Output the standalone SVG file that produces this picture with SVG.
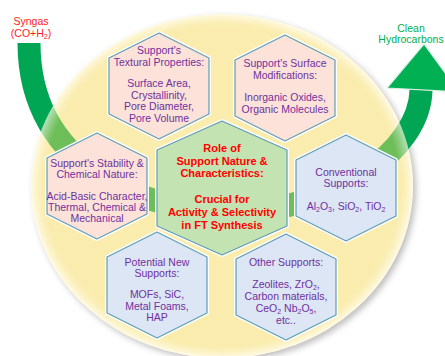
<svg xmlns="http://www.w3.org/2000/svg" xmlns:xlink="http://www.w3.org/1999/xlink" width="445" height="356" viewBox="0 0 445 356">
<defs>
<style>
.t{font-family:"Liberation Sans",Arial,sans-serif;font-size:10.5px;fill:#7030a0;text-anchor:middle}
.c{font-family:"Liberation Sans",Arial,sans-serif;font-size:11px;font-weight:bold;fill:#ff0000;text-anchor:middle}
.lab{font-family:"Liberation Sans",Arial,sans-serif;font-size:10.5px;text-anchor:middle}
.glow{fill:none;stroke:#ffffff;stroke-width:4;stroke-linejoin:round}
.edge{stroke:#5f9db2;stroke-width:1.2;stroke-linejoin:round}
.pink{fill:#fce2d8}
.blue{fill:#dce6f4}
.green{fill:#c4e3b2}
.sub{font-size:7px}
</style>
<polygon id="hexS" points="0,-53 50,-28 50,28 0,53 -50,28 -50,-28"/>
<polygon id="hexL" points="0,-67 65,-38 65,38 0,67 -65,38 -65,-38"/>
<filter id="blur" x="-10%" y="-10%" width="120%" height="120%"><feGaussianBlur stdDeviation="3"/></filter>
<radialGradient id="rim" cx="0.5" cy="0.5" r="0.5">
<stop offset="0.93" stop-color="#f3dc62" stop-opacity="0.45"/>
<stop offset="1" stop-color="#fffbe6" stop-opacity="0.7"/>
</radialGradient>
</defs>
<ellipse cx="225" cy="189" rx="191" ry="172" fill="#8a8a8a" opacity="0.55" filter="url(#blur)"/>
<ellipse cx="222" cy="186" rx="191" ry="172" fill="#fffaec"/>
<g id="connectors">
<path d="M29 43 C29 170 150 212 230 212 C335 212 420 150 421 90" fill="none" stroke="#00a653" stroke-width="23"/>
<polygon points="387,88 424,44 459,92" fill="#00b053" stroke="#d8f0e4" stroke-width="1.2" stroke-linejoin="round"/>
</g>
<ellipse cx="222" cy="186" rx="191" ry="172" fill="url(#rim)"/>
<g id="labels">
<text class="lab" x="31" y="25" fill="#ff1a1a">Syngas</text>
<text class="lab" x="31" y="37" fill="#ff1a1a">(CO+H<tspan class="sub" dy="2">2</tspan><tspan dy="-2">)</tspan></text>
<text class="lab" x="411" y="32" fill="#00b050">Clean</text>
<text class="lab" x="411" y="43" fill="#00b050">Hydrocarbons</text>
</g>
<g id="textural">
<use href="#hexS" x="159" y="86" class="glow"/>
<use href="#hexS" x="159" y="86" class="pink edge"/>
<text class="t" x="159" y="54">Support's</text>
<text class="t" x="159" y="65.5">Textural Properties:</text>
<text class="t" x="159" y="87">Surface Area,</text>
<text class="t" x="159" y="98.5">Crystallinity,</text>
<text class="t" x="159" y="110">Pore Diameter,</text>
<text class="t" x="159" y="121.5">Pore Volume</text>
</g>
<g id="surface">
<use href="#hexS" x="285" y="88" class="glow"/>
<use href="#hexS" x="285" y="88" class="pink edge"/>
<text class="t" x="285" y="67">Support's Surface</text>
<text class="t" x="285" y="78.5">Modifications:</text>
<text class="t" x="285" y="101">Inorganic Oxides,</text>
<text class="t" x="285" y="112.5">Organic Molecules</text>
</g>
<g id="stability">
<use href="#hexS" x="97" y="186" class="glow"/>
<use href="#hexS" x="97" y="186" class="pink edge"/>
<text class="t" x="97" y="167">Support's Stability &amp;</text>
<text class="t" x="97" y="178">Chemical Nature:</text>
<text class="t" x="97" y="200">Acid-Basic Character,</text>
<text class="t" x="97" y="211">Thermal, Chemical &amp;</text>
<text class="t" x="97" y="222">Mechanical</text>
</g>
<g id="center">
<use href="#hexL" x="222" y="188" class="glow"/>
<use href="#hexL" x="222" y="188" class="green edge"/>
<text class="c" x="222" y="152">Role of</text>
<text class="c" x="222" y="165">Support Nature &amp;</text>
<text class="c" x="222" y="177">Characteristics:</text>
<text class="c" x="222" y="203">Crucial for</text>
<text class="c" x="222" y="216">Activity &amp; Selectivity</text>
<text class="c" x="222" y="229">in FT Synthesis</text>
</g>
<g id="conventional">
<use href="#hexS" x="346" y="188" class="glow"/>
<use href="#hexS" x="346" y="188" class="blue edge"/>
<text class="t" x="346" y="176">Conventional</text>
<text class="t" x="346" y="187">Supports:</text>
<text class="t" x="346" y="210">Al<tspan class="sub" dy="2">2</tspan><tspan dy="-2">O</tspan><tspan class="sub" dy="2">3</tspan><tspan dy="-2">, SiO</tspan><tspan class="sub" dy="2">2</tspan><tspan dy="-2">, TiO</tspan><tspan class="sub" dy="2">2</tspan></text>
</g>
<g id="potential">
<use href="#hexS" x="157" y="285" class="glow"/>
<use href="#hexS" x="157" y="285" class="blue edge"/>
<text class="t" x="157" y="266">Potential New</text>
<text class="t" x="157" y="277">Supports:</text>
<text class="t" x="157" y="298">MOFs, SiC,</text>
<text class="t" x="157" y="310">Metal Foams,</text>
<text class="t" x="157" y="321">HAP</text>
</g>
<g id="other">
<use href="#hexS" x="286" y="287" class="glow"/>
<use href="#hexS" x="286" y="287" class="blue edge"/>
<text class="t" x="286" y="266">Other Supports:</text>
<text class="t" x="286" y="287.5">Zeolites, ZrO<tspan class="sub" dy="2">2</tspan><tspan dy="-2">,</tspan></text>
<text class="t" x="286" y="299.5">Carbon materials,</text>
<text class="t" x="286" y="311.5">CeO<tspan class="sub" dy="2">2</tspan><tspan dy="-2"> Nb</tspan><tspan class="sub" dy="2">2</tspan><tspan dy="-2">O</tspan><tspan class="sub" dy="2">5</tspan><tspan dy="-2">,</tspan></text>
<text class="t" x="286" y="323.5">etc..</text>
</g>
</svg>
